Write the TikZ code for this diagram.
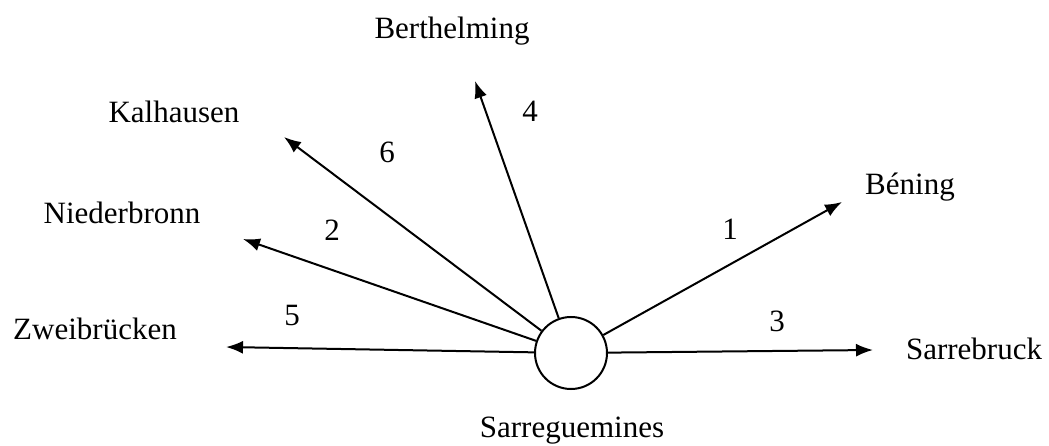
\documentclass[tikz,border=0pt]{standalone}
\usepackage{fontspec}
\setmainfont{Liberation Serif}
\usetikzlibrary{arrows.meta}
\begin{document}
\begin{tikzpicture}[x=1pt,y=-1pt,
  lbl/.style={anchor=base,inner sep=0pt,font=\fontsize{31}{36}\selectfont},
  ray/.style={line width=2pt,-{Latex[length=17pt,width=13pt]}}]
\useasboundingbox (0,0) rectangle (1049,446);
\node[circle,draw,line width=2pt,minimum size=72pt,inner sep=0pt] (c) at (571,353) {};
\coordinate (tz) at (226,347);
\coordinate (tn) at (243,239);
\coordinate (tk) at (284,137);
\coordinate (tb) at (475,81);
\coordinate (tbe) at (842,202);
\coordinate (ts) at (873,350);
\draw[ray] (c) -- (tz);
\draw[ray] (c) -- (tn);
\draw[ray] (c) -- (tk);
\draw[ray] (c) -- (tb);
\draw[ray] (c) -- (tbe);
\draw[ray] (c) -- (ts);
\node[lbl] (nber) at (452,39) {Berthelming};
\node[lbl] (nkal) at (174,123) {Kalhausen};
\node[lbl] (nnie) at (122,224) {Niederbronn};
\node[lbl] (nzwe) at (95,339) {Zweibrücken};
\node[lbl] (nsag) at (572,437) {Sarreguemines};
\node[lbl] (nsab) at (974,359) {Sarrebruck};
\node[lbl] (nben) at (910,195) {Béning};
\node[lbl] (l1) at (730,240) {1};
\node[lbl] (l3) at (777,331) {3};
\node[lbl] (l2) at (332,241) {2};
\node[lbl] (l6) at (387,163) {6};
\node[lbl] (l4) at (530,122) {4};
\node[lbl] (l5) at (292,325) {5};
\end{tikzpicture}
\end{document}
